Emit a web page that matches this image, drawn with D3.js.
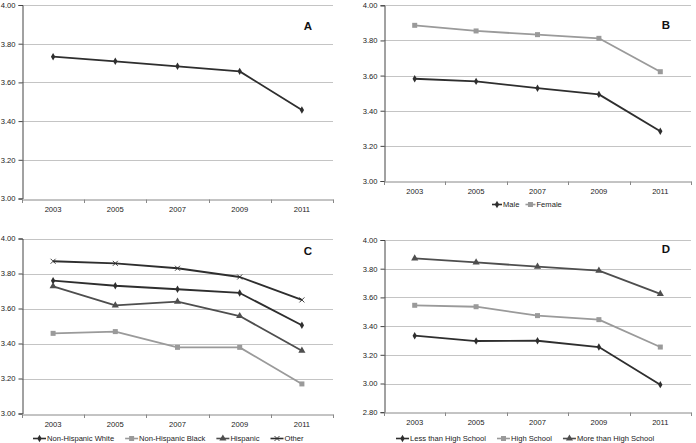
<!DOCTYPE html>
<html><head><meta charset="utf-8">
<script src="https://cdn.jsdelivr.net/npm/d3@7"></script>
<style>
html,body{margin:0;padding:0;background:#fff;}
svg{display:block;font-family:"Liberation Sans",Arial,sans-serif;}
</style></head>
<body>
<svg id="chart" width="696" height="443"></svg>
<script>
// ---- data ----
const years = ["2003","2005","2007","2009","2011"];
const yTicksA = ["3.00","3.20","3.40","3.60","3.80","4.00"];
const yTicksD = ["2.80","3.00","3.20","3.40","3.60","3.80","4.00"];

const overall = [3.733, 3.709, 3.683, 3.657, 3.457];

const male   = [3.582, 3.567, 3.528, 3.493, 3.283];
const female = [3.886, 3.854, 3.833, 3.812, 3.622];

const nhWhite  = [3.759, 3.730, 3.710, 3.689, 3.504];
const nhBlack  = [3.458, 3.468, 3.378, 3.378, 3.169];
const hispanic = [3.727, 3.618, 3.639, 3.557, 3.359];
const other    = [3.870, 3.858, 3.830, 3.780, 3.649];

const lessHS = [3.333, 3.296, 3.298, 3.254, 2.992];
const hs     = [3.545, 3.535, 3.473, 3.445, 3.254];
const moreHS = [3.872, 3.844, 3.814, 3.786, 3.624];

// ---- styles ----
const DARK = "#2e2e2e", GRAY = "#9a9a9a", MID = "#4e4e4e";

const panels = [
  {letter:"A", l:22, r:333, t:5, b:198.5, ticks:yTicksA, letterX:308, letterY:30,
   series:[{name:"", values:overall, color:DARK, marker:"diamond"}], legend:null},
  {letter:"B", l:384, r:691, t:5.3, b:181, ticks:yTicksA, letterX:666, letterY:29,
   series:[{name:"Male", values:male, color:DARK, marker:"diamond"},
           {name:"Female", values:female, color:GRAY, marker:"square"}],
   legend:{x:492, y:207, line:10, gap:6}},
  {letter:"C", l:22, r:333, t:238.5, b:413.5, ticks:yTicksA, letterX:308, letterY:255,
   series:[{name:"Non-Hispanic White", values:nhWhite, color:DARK, marker:"diamond"},
           {name:"Non-Hispanic Black", values:nhBlack, color:GRAY, marker:"square"},
           {name:"Hispanic", values:hispanic, color:MID, marker:"triangle"},
           {name:"Other", values:other, color:DARK, marker:"x"}],
   legend:{x:33, y:441, line:13, gap:11}},
  {letter:"D", l:384, r:691, t:240, b:412.2, ticks:yTicksD, letterX:666, letterY:253,
   series:[{name:"Less than High School", values:lessHS, color:DARK, marker:"diamond"},
           {name:"High School", values:hs, color:GRAY, marker:"square"},
           {name:"More than High School", values:moreHS, color:MID, marker:"triangle"}],
   legend:{x:396, y:441, line:13, gap:11}}
];

const svg = d3.select("#chart");

function drawMarker(g, type, x, y, color){
  if(type==="diamond"){
    g.append("path").attr("d", d3.symbol(d3.symbolDiamond, 16)()).attr("transform",`translate(${x},${y})`).attr("fill",color);
  } else if(type==="square"){
    g.append("rect").attr("x",x-2.5).attr("y",y-2.5).attr("width",5).attr("height",5).attr("fill",color);
  } else if(type==="triangle"){
    g.append("path").attr("d", d3.symbol(d3.symbolTriangle, 22)()).attr("transform",`translate(${x},${y})`).attr("fill",color);
  } else if(type==="x"){
    g.append("path").attr("d",`M${x-2.5},${y-2.5}L${x+2.5},${y+2.5}M${x-2.5},${y+2.5}L${x+2.5},${y-2.5}`)
      .attr("stroke",color).attr("stroke-width",0.9).attr("fill","none");
  }
}

panels.forEach(p=>{
  const g = svg.append("g");
  const x = d3.scaleBand().domain(years).range([p.l, p.r]).paddingInner(0).paddingOuter(0);
  const tv = p.ticks.map(Number);
  const y = d3.scaleLinear().domain([tv[0], tv[tv.length-1]]).range([p.b, p.t]);

  // gridlines
  g.append("g").selectAll("line").data(tv.slice(1)).join("line")
    .attr("x1",p.l).attr("x2",p.r)
    .attr("y1",d=>Math.round(y(d))+0.5).attr("y2",d=>Math.round(y(d))+0.5)
    .attr("stroke","#c4c4c4").attr("stroke-width",1);

  // y axis
  const ya = d3.axisLeft(y).tickValues(tv).tickFormat(d=>d3.format(".2f")(d)).tickSize(4).tickPadding(3);
  const yg = g.append("g").attr("transform",`translate(${Math.round(p.l)+0.5},0)`).call(ya);
  yg.select(".domain").attr("stroke","#444");
  yg.selectAll(".tick line").attr("stroke","#444");
  yg.selectAll(".tick text").attr("font-size","7.6px").attr("fill","#222").attr("font-family","Liberation Sans, Arial, sans-serif");

  // x axis
  const xa = d3.axisBottom(x).tickSize(0).tickPadding(7);
  const xg = g.append("g").attr("transform",`translate(0,${Math.round(p.b)+0.5})`).call(xa);
  xg.select(".domain").attr("stroke","#888");
  xg.selectAll(".tick text").attr("font-size","7.6px").attr("fill","#222").attr("font-family","Liberation Sans, Arial, sans-serif");
  // category boundary ticks
  const bounds = years.map(d=>x(d)).concat([x(years[years.length-1])+x.bandwidth()]);
  g.append("g").selectAll("line").data(bounds).join("line")
    .attr("x1",d=>Math.round(d)+0.5).attr("x2",d=>Math.round(d)+0.5)
    .attr("y1",Math.round(p.b)+0.5).attr("y2",Math.round(p.b)+4)
    .attr("stroke","#888");

  // lines
  const line = d3.line().x((d,i)=>x(years[i])+x.bandwidth()/2).y(d=>y(d));
  p.series.forEach(s=>{
    g.append("path").datum(s.values).attr("d",line).attr("fill","none")
      .attr("stroke",s.color).attr("stroke-width",1.8).attr("stroke-linejoin","round");
    const mg = g.append("g");
    s.values.forEach((v,i)=>drawMarker(mg, s.marker, x(years[i])+x.bandwidth()/2, y(v), s.color));
  });

  // panel letter
  g.append("text").attr("x",p.letterX).attr("y",p.letterY).text(p.letter)
    .attr("font-size","11.5px").attr("font-weight","bold").attr("fill","#111").attr("text-anchor","middle");

  // legend
  if(p.legend){
    let cx = p.legend.x;
    const lg = g.append("g");
    p.series.forEach(s=>{
      lg.append("line").attr("x1",cx).attr("x2",cx+p.legend.line).attr("y1",p.legend.y-2.5).attr("y2",p.legend.y-2.5)
        .attr("stroke",s.color).attr("stroke-width",1.6);
      drawMarker(lg, s.marker, cx+p.legend.line/2, p.legend.y-2.5, s.color);
      const t = lg.append("text").attr("x",cx+p.legend.line+1).attr("y",p.legend.y).text(s.name)
        .attr("font-size","7.6px").attr("fill","#222");
      cx += p.legend.line + 1 + t.node().getComputedTextLength() + p.legend.gap;
    });
  }
});
</script>
</body></html>
